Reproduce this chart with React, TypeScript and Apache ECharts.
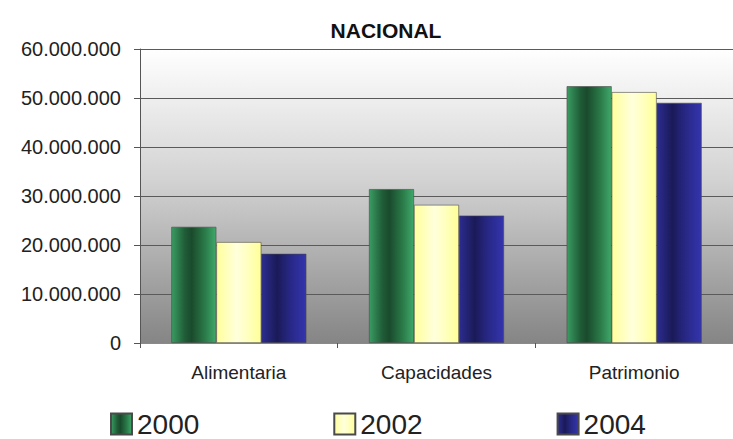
import React, { useEffect, useRef } from "react";
import * as echarts from "echarts";

const categories = ["Alimentaria", "Capacidades", "Patrimonio"];
const seriesNames = ["2000", "2002", "2004"];
const values2000 = [23700000, 31400000, 52400000];
const values2002 = [20600000, 28200000, 51200000];
const values2004 = [18200000, 26000000, 49000000];
const yTicks = [0, 10000000, 20000000, 30000000, 40000000, 50000000, 60000000];

const grad = (stops: [number, string][]) =>
  new echarts.graphic.LinearGradient(0, 0, 1, 0, stops.map(([offset, color]) => ({ offset, color })));

const greenFill = () =>
  grad([[0, "#3a9c62"], [0.3, "#1f5c37"], [0.45, "#1a4a2c"], [0.75, "#2a7a48"], [1, "#3fa86a"]]);
const yellowFill = () =>
  grad([[0, "#ffff9c"], [0.45, "#ffffdc"], [0.7, "#ffffc0"], [1, "#ffff98"]]);
const blueFill = () =>
  grad([[0, "#2c2c90"], [0.35, "#1a1a58"], [0.6, "#262680"], [1, "#3434ae"]]);

const fmt = (v: number) => {
  if (v === 0) return "0";
  return String(v).replace(/\B(?=(\d{3})+(?!\d))/g, ".");
};

const FONT = "Liberation Sans, Arial, sans-serif";

export default function App() {
  const ref = useRef<HTMLDivElement>(null);
  useEffect(() => {
    if (!ref.current) return;
    const chart = echarts.init(ref.current, null, { renderer: "svg" });
    const fills = [greenFill(), yellowFill(), blueFill()];
    const data = [values2000, values2002, values2004];
    chart.setOption({
      animation: false,
      backgroundColor: "#ffffff",
      title: {
        text: "NACIONAL",
        left: 381,
        textAlign: "center",
        top: 15,
        textStyle: { fontFamily: FONT, fontSize: 21, fontWeight: "bold", color: "#111" },
      },
      legend: {
        left: 110,
        top: 410,
        padding: 0,
        itemWidth: 21,
        itemHeight: 21,
        itemGap: 134,
        icon: "rect",
        data: seriesNames,
        textStyle: { fontFamily: FONT, fontSize: 28, color: "#222" },
      },
      grid: {
        left: 140,
        right: -10,
        top: 49,
        bottom: 96,
        show: true,
        borderWidth: 0,
        backgroundColor: new echarts.graphic.LinearGradient(0, 0, 0, 1, [
          { offset: 0, color: "#ffffff" },
          { offset: 0.45, color: "#d2d2d2" },
          { offset: 1, color: "#858585" },
        ]),
      },
      xAxis: {
        type: "category",
        data: categories,
        axisLine: { show: true, lineStyle: { color: "#8a8a8a", width: 1 } },
        axisTick: { show: true, length: 5, lineStyle: { color: "#555" } },
        axisLabel: {
          margin: 20,
          fontFamily: FONT,
          fontSize: 19,
          color: "#222",
        },
      },
      yAxis: {
        type: "value",
        min: 0,
        max: 60000000,
        interval: 10000000,
        axisLine: { show: true, lineStyle: { color: "#555", width: 1 } },
        axisTick: { show: true, length: 6, lineStyle: { color: "#555" } },
        splitLine: { show: true, lineStyle: { color: "#5a5a5a", width: 1 } },
        axisLabel: {
          margin: 19,
          fontFamily: FONT,
          fontSize: 20,
          color: "#222",
          formatter: (v: number) => (yTicks.includes(v) ? fmt(v) : ""),
        },
      },
      series: seriesNames.map((name, i) => ({
        name,
        type: "bar",
        data: data[i],
        barWidth: 45,
        barGap: "0%",
        itemStyle: { color: fills[i], borderColor: "#4a4a4a", borderWidth: 0.6 },
      })),
    });
    return () => chart.dispose();
  }, []);
  return (
    <div
      ref={ref}
      style={{ position: "fixed", left: 0, top: 0, width: 733, height: 439 }}
    />
  );
}
